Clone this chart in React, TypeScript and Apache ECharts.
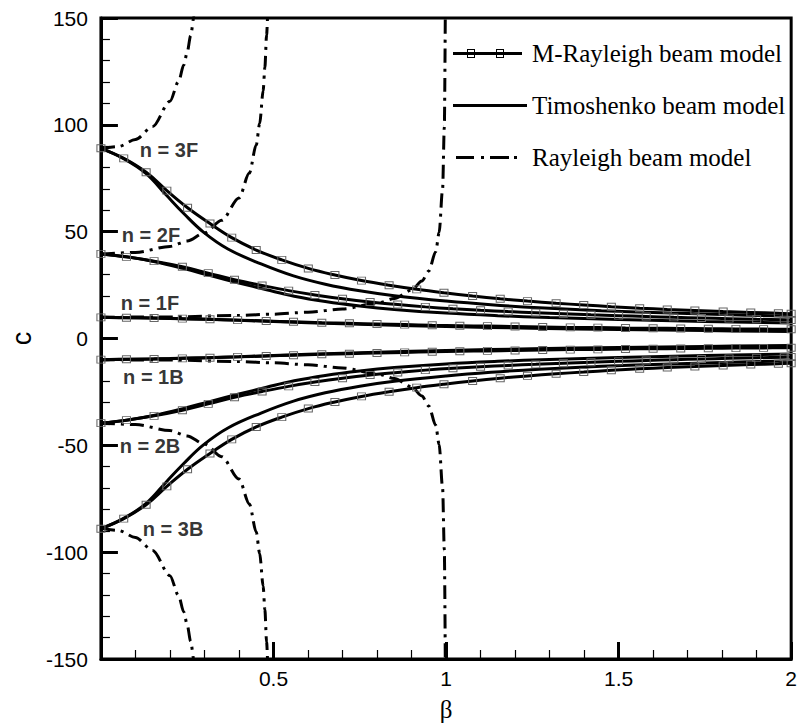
import React, { useEffect, useRef } from "react";
import * as echarts from "echarts";

// ---------- data (β, c) ----------
// Rayleigh beam model (dash-dot)
const rayleigh1F = [[0, 9.9], [0.2, 10.1], [0.4, 10.8], [0.5, 11.4], [0.6, 12.3], [0.7, 13.8], [0.8, 16.5], [0.85, 18.7], [0.9, 22.6], [0.93, 26.9], [0.95, 31.6], [0.97, 40.6], [0.98, 49.6], [0.99, 70], [0.995, 99], [0.998, 156]];
const rayleigh2F = [[0, 39.5], [0.1, 40.3], [0.2, 43.1], [0.25, 45.6], [0.3, 49.4], [0.35, 55.3], [0.4, 65.8], [0.43, 77.4], [0.45, 90.6], [0.46, 100.6], [0.47, 115.8], [0.475, 126.8], [0.48, 142], [0.485, 162]];
const rayleigh3F = [[0, 88.8], [0.05, 89.8], [0.1, 93.1], [0.15, 99.2], [0.2, 111], [0.225, 120.3], [0.24, 128], [0.25, 134], [0.26, 141.8], [0.27, 151], [0.28, 163]];
const rayleigh1B = [[0, -9.9], [0.2, -10.1], [0.4, -10.8], [0.5, -11.4], [0.6, -12.3], [0.7, -13.8], [0.8, -16.5], [0.85, -18.7], [0.9, -22.6], [0.93, -26.9], [0.95, -31.6], [0.97, -40.6], [0.98, -49.6], [0.99, -70], [0.995, -99], [0.998, -156]];
const rayleigh2B = [[0, -39.5], [0.1, -40.3], [0.2, -43.1], [0.25, -45.6], [0.3, -49.4], [0.35, -55.3], [0.4, -65.8], [0.43, -77.4], [0.45, -90.6], [0.46, -100.6], [0.47, -115.8], [0.475, -126.8], [0.48, -142], [0.485, -162]];
const rayleigh3B = [[0, -88.8], [0.05, -89.8], [0.1, -93.1], [0.15, -99.2], [0.2, -111], [0.225, -120.3], [0.24, -128], [0.25, -134], [0.26, -141.8], [0.27, -151], [0.28, -163]];

// Timoshenko beam model (solid)
const timo1F = [[0, 9.9], [0.2, 9.4], [0.4, 8.5], [0.6, 7.4], [0.8, 6.4], [1.0, 5.6], [1.25, 4.8], [1.5, 4.2], [1.75, 3.7], [2, 3.3]];
const timo2F = [[0, 39.6], [0.08, 38.1], [0.16, 35.8], [0.24, 32.7], [0.32, 29.3], [0.4, 26], [0.48, 22.8], [0.56, 19.8], [0.65, 17.3], [0.75, 15.2], [0.85, 13.6], [1.0, 11.9], [1.15, 10.7], [1.3, 9.8], [1.5, 8.9], [1.75, 8.0], [2, 7.3]];
const timo3F = [[0, 89], [0.066, 84.2], [0.131, 77.2], [0.19, 67], [0.24, 58.5], [0.297, 49.8], [0.368, 41.9], [0.464, 34.9], [0.558, 29.3], [0.65, 25.4], [0.75, 22.3], [0.85, 20], [1.0, 17.5], [1.13, 15.8], [1.27, 14.4], [1.45, 13.0], [1.65, 11.9], [1.85, 11.0], [2, 10.4]];
const timo1B = [[0, -9.9], [0.2, -9.4], [0.4, -8.5], [0.6, -7.4], [0.8, -6.4], [1.0, -5.6], [1.25, -4.8], [1.5, -4.2], [1.75, -3.7], [2, -3.3]];
const timo2B = [[0, -39.6], [0.08, -38.1], [0.16, -35.8], [0.24, -32.7], [0.32, -29.3], [0.4, -26], [0.48, -22.8], [0.56, -19.8], [0.65, -17.3], [0.75, -15.2], [0.85, -13.6], [1.0, -11.9], [1.15, -10.7], [1.3, -9.8], [1.5, -8.9], [1.75, -8.0], [2, -7.3]];
const timo3B = [[0, -89], [0.066, -84.2], [0.131, -77.2], [0.19, -67], [0.24, -58.5], [0.297, -49.8], [0.368, -41.9], [0.464, -34.9], [0.558, -29.3], [0.65, -25.4], [0.75, -22.3], [0.85, -20], [1.0, -17.5], [1.13, -15.8], [1.27, -14.4], [1.45, -13.0], [1.65, -11.9], [1.85, -11.0], [2, -10.4]];

// M-Rayleigh beam model (solid with square markers)
const mRay1F = [[0, 9.9], [0.074, 9.7], [0.154, 9.6], [0.236, 9.3], [0.316, 9.0], [0.396, 8.6], [0.479, 8.2], [0.558, 7.8], [0.64, 7.4], [0.72, 7.1], [0.8, 6.8], [0.88, 6.5], [0.96, 6.2], [1.04, 6.0], [1.12, 5.8], [1.2, 5.6], [1.28, 5.4], [1.36, 5.2], [1.44, 5.1], [1.52, 4.9], [1.6, 4.8], [1.68, 4.7], [1.76, 4.6], [1.84, 4.5], [1.92, 4.4], [2, 4.3]];
const mRay2F = [[0, 39.6], [0.074, 38.2], [0.154, 36.2], [0.236, 33.6], [0.311, 30.6], [0.387, 27.5], [0.467, 24.8], [0.544, 22.4], [0.62, 20.4], [0.7, 18.6], [0.78, 17.1], [0.86, 15.9], [0.94, 14.8], [1.02, 13.9], [1.1, 13.2], [1.18, 12.6], [1.26, 12.1], [1.34, 11.6], [1.42, 11.1], [1.5, 10.7], [1.58, 10.3], [1.66, 9.9], [1.74, 9.6], [1.82, 9.3], [1.9, 9.0], [1.98, 8.8], [2, 8.7]];
const mRay3F = [[0, 89], [0.066, 84.3], [0.131, 77.8], [0.191, 69.2], [0.251, 61.2], [0.316, 53.8], [0.379, 47.2], [0.45, 41.4], [0.524, 36.8], [0.601, 32.8], [0.678, 29.7], [0.755, 27.1], [0.835, 24.9], [0.915, 23.0], [0.994, 21.4], [1.077, 19.9], [1.157, 18.6], [1.236, 17.5], [1.319, 16.5], [1.399, 15.7], [1.479, 14.9], [1.561, 14.2], [1.641, 13.6], [1.721, 13.1], [1.803, 12.6], [1.883, 12.2], [1.963, 11.8], [2, 11.6]];
const mRay1B = [[0, -9.9], [0.074, -9.7], [0.154, -9.6], [0.236, -9.3], [0.316, -9.0], [0.396, -8.6], [0.479, -8.2], [0.558, -7.8], [0.64, -7.4], [0.72, -7.1], [0.8, -6.8], [0.88, -6.5], [0.96, -6.2], [1.04, -6.0], [1.12, -5.8], [1.2, -5.6], [1.28, -5.4], [1.36, -5.2], [1.44, -5.1], [1.52, -4.9], [1.6, -4.8], [1.68, -4.7], [1.76, -4.6], [1.84, -4.5], [1.92, -4.4], [2, -4.3]];
const mRay2B = [[0, -39.6], [0.074, -38.2], [0.154, -36.2], [0.236, -33.6], [0.311, -30.6], [0.387, -27.5], [0.467, -24.8], [0.544, -22.4], [0.62, -20.4], [0.7, -18.6], [0.78, -17.1], [0.86, -15.9], [0.94, -14.8], [1.02, -13.9], [1.1, -13.2], [1.18, -12.6], [1.26, -12.1], [1.34, -11.6], [1.42, -11.1], [1.5, -10.7], [1.58, -10.3], [1.66, -9.9], [1.74, -9.6], [1.82, -9.3], [1.9, -9.0], [1.98, -8.8], [2, -8.7]];
const mRay3B = [[0, -89], [0.066, -84.3], [0.131, -77.8], [0.191, -69.2], [0.251, -61.2], [0.316, -53.8], [0.379, -47.2], [0.45, -41.4], [0.524, -36.8], [0.601, -32.8], [0.678, -29.7], [0.755, -27.1], [0.835, -24.9], [0.915, -23.0], [0.994, -21.4], [1.077, -19.9], [1.157, -18.6], [1.236, -17.5], [1.319, -16.5], [1.399, -15.7], [1.479, -14.9], [1.561, -14.2], [1.641, -13.6], [1.721, -13.1], [1.803, -12.6], [1.883, -12.2], [1.963, -11.8], [2, -11.6]];

// mode annotations: [text, β, c]
const modeLabels: [string, number, number][] = [
  ["n = 3F", 0.197, 88.3],
  ["n = 2F", 0.145, 48.4],
  ["n = 1F", 0.142, 16.8],
  ["n = 1B", 0.152, -18.2],
  ["n = 2B", 0.142, -50.5],
  ["n = 3B", 0.209, -89],
];

const legendNames = ["M-Rayleigh beam model", "Timoshenko beam model", "Rayleigh beam model"];

const SANS = "'Liberation Sans', Arial, sans-serif";
const SERIF = "'Liberation Serif', 'Times New Roman', serif";

const specks = "M0,0h0.01v0.01h-0.01Z M73.99,9.99h0.01v0.01h-0.01Z";
const iconMR =
  "path://M0,3.5H69V6.5H0Z M14,0.5H22V9.5H14Z M15,1.5V8.5H21V1.5Z M43,0.5H51V9.5H43Z M44,1.5V8.5H50V1.5Z " + specks;
const iconT = "path://M0,3.5H74V6.5H0Z " + specks;
const iconR = "path://M3,3.5H21V6.5H3Z M28,3.5H31V6.5H28Z M37,3.5H56V6.5H37Z M61,3.5H64V6.5H61Z " + specks;

export default function App() {
  const ref = useRef<HTMLDivElement>(null);

  useEffect(() => {
    if (!ref.current) return;
    const chart = echarts.init(ref.current, null, { renderer: "svg" });

    const rayleighSeries = [rayleigh1F, rayleigh2F, rayleigh3F, rayleigh1B, rayleigh2B, rayleigh3B].map((d) => ({
      type: "line",
      name: legendNames[2],
      data: d,
      showSymbol: false,
      smooth: 0.3,
      smoothMonotone: "x",
      lineStyle: { color: "#000", width: 3, type: [14, 6, 3, 6] },
      itemStyle: { color: "#000" },
      z: 2,
    }));
    const timoSeries = [timo1F, timo2F, timo3F, timo1B, timo2B, timo3B].map((d) => ({
      type: "line",
      name: legendNames[1],
      data: d,
      showSymbol: false,
      smooth: 0.4,
      lineStyle: { color: "#000", width: 3 },
      itemStyle: { color: "#000" },
      z: 3,
    }));
    const mRaySeries = [mRay1F, mRay2F, mRay3F, mRay1B, mRay2B, mRay3B].map((d) => ({
      type: "line",
      name: legendNames[0],
      data: d,
      showSymbol: true,
      showAllSymbol: true,
      symbol: "rect",
      symbolSize: [8, 7],
      smooth: 0.4,
      lineStyle: { color: "#000", width: 3 },
      itemStyle: { color: "rgba(255,255,255,0)", borderColor: "#666", borderWidth: 1 },
      z: 4,
    }));

    const labelSeries = {
      type: "scatter",
      name: "labels",
      symbolSize: 0,
      data: modeLabels.map(([t, x, y]) => ({ value: [x, y], name: t })),
      label: {
        show: true,
        position: "inside",
        formatter: (p: any) => p.name,
        fontFamily: SANS,
        fontWeight: "bold",
        fontSize: 20,
        color: "#000",
      },
      z: 5,
    };

    chart.setOption({
      animation: false,
      backgroundColor: "#fff",
      grid: { left: 94, right: 4, top: 18, bottom: 65, show: true, borderColor: "#000", borderWidth: 3 },
      legend: {
        orient: "vertical",
        left: 453,
        top: 41,
        padding: 0,
        itemWidth: 74,
        itemHeight: 10,
        itemGap: 27,
        selectedMode: false,
        textStyle: { fontFamily: SERIF, fontSize: 25, color: "#000" },
        data: [
          { name: legendNames[0], icon: iconMR, itemStyle: { color: "#000", borderWidth: 0 } },
          { name: legendNames[1], icon: iconT, itemStyle: { color: "#000", borderWidth: 0 } },
          { name: legendNames[2], icon: iconR, itemStyle: { color: "#000", borderWidth: 0 } },
        ],
      },
      xAxis: {
        type: "value",
        min: 0,
        max: 2,
        interval: 0.5,
        name: "β",
        nameLocation: "middle",
        nameGap: 38,
        nameTextStyle: { fontFamily: SERIF, fontSize: 25, color: "#000" },
        axisLine: { show: true, onZero: false, lineStyle: { color: "#000", width: 3 } },
        axisTick: { show: true, inside: true, length: 17, lineStyle: { color: "#000", width: 3 } },
        minorTick: { show: true, splitNumber: 5, length: 9, lineStyle: { color: "#000", width: 1.2 } },
        splitLine: { show: false },
        axisLabel: {
          formatter: (v: number) => (v === 0 ? "" : String(v)),
          fontFamily: SANS,
          fontSize: 21,
          color: "#000",
          margin: 9,
        },
      },
      yAxis: {
        type: "value",
        min: -150,
        max: 150,
        interval: 50,
        name: "c",
        nameLocation: "middle",
        nameGap: 62,
        nameRotate: 90,
        nameTextStyle: { fontFamily: SANS, fontSize: 27, color: "#000" },
        axisLine: { show: true, onZero: false, lineStyle: { color: "#000", width: 3 } },
        axisTick: { show: true, inside: true, length: 17, lineStyle: { color: "#000", width: 3 } },
        minorTick: { show: true, splitNumber: 5, length: 9, lineStyle: { color: "#000", width: 1.2 } },
        splitLine: { show: false },
        axisLabel: { fontFamily: SANS, fontSize: 21, color: "#000", margin: 13 },
      },
      series: [...rayleighSeries, ...timoSeries, ...mRaySeries, labelSeries],
    });

    return () => chart.dispose();
  }, []);

  return (
    <div
      ref={ref}
      style={{ position: "fixed", left: 0, top: 0, width: 800, height: 727, background: "#fff" }}
    />
  );
}
